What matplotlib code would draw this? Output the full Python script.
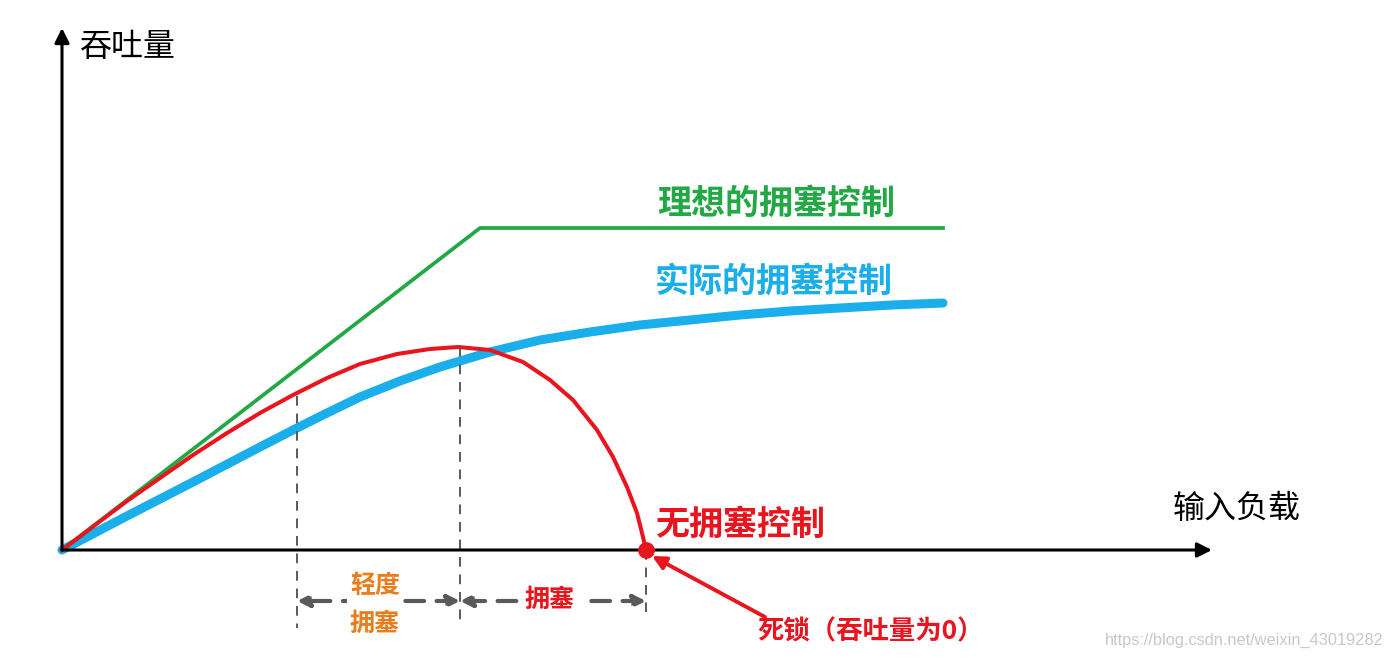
import matplotlib
matplotlib.use("Agg")
import matplotlib.pyplot as plt

plt.rcParams['font.family'] = ['Noto Sans CJK SC', 'DejaVu Sans']

# 输入负载 / 吞吐量 (arbitrary units)
ideal_x = [0, 418, 881]
ideal_y = [0, 322, 322]

real_x = [0, 65, 131, 198, 231, 265, 298, 338, 378, 428, 478, 528, 578, 628, 678, 728, 778, 830, 881]
real_y = [0, 34, 68, 103, 120, 137, 153, 169, 183, 198, 210, 218, 225, 230, 235, 239, 242, 245, 247]

none_x = [0, 65, 131, 165, 198, 231, 265, 298, 335, 368, 396, 428, 461, 488, 511, 535, 551, 565, 575, 581, 584]
none_y = [0, 49, 95, 117, 137, 155, 172, 186, 196, 201, 203, 200, 188, 170, 150, 120, 93, 63, 37, 13, 0]

# 区间分界 (轻度拥塞 / 拥塞 / 死锁)
bound_x = [235, 398, 584]
bound_top = [154, 203, 0]
bound_bottom = [-78, -72, -62]

green = "#22a845"
blue = "#1aaeeb"
red = "#e8141e"
orange = "#e87d1e"
grey = "#5a5a5a"

fig = plt.figure(figsize=(13.88, 6.6), dpi=100)
ax = fig.add_axes([0, 0, 1, 1])
ax.set_xlim(-62, 1326)
ax.set_ylim(-110, 550)
ax.axis('off')

# axes with arrows
ax.annotate("", xy=(0, 522), xytext=(0, 0),
            arrowprops=dict(arrowstyle='-|>', color='black', lw=2.2, mutation_scale=22, shrinkA=0, shrinkB=0))
ax.annotate("", xy=(1150, 0), xytext=(0, 0),
            arrowprops=dict(arrowstyle='-|>', color='black', lw=2.2, mutation_scale=22, shrinkA=0, shrinkB=0))
ax.text(18, 503, "吞吐量", fontsize=23, va='center', ha='left')
ax.text(1111, 41, "输入负载", fontsize=23, va='center', ha='left')

# curves
ax.plot(real_x, real_y, color=blue, lw=6.5, solid_capstyle='round', solid_joinstyle='round')
ax.plot(ideal_x, ideal_y, color=green, lw=2.7)
ax.plot(none_x, none_y, color=red, lw=2.9, solid_joinstyle='round')

ax.text(595, 347, "理想的拥塞控制", fontsize=24.5, fontweight='bold', color=green, va='center', ha='left')
ax.text(593, 269, "实际的拥塞控制", fontsize=24.5, fontweight='bold', color=blue, va='center', ha='left')
ax.text(593, 26, "无拥塞控制", fontsize=24.5, fontweight='bold', color=red, va='center', ha='left')

# dashed boundaries
for bx, bt, bb in zip(bound_x, bound_top, bound_bottom):
    ax.plot([bx, bx], [bt, bb], color=grey, lw=1.4, ls=(0, (5, 4)))

# range arrows
ax.annotate("", xy=(bound_x[0], -51), xytext=(bound_x[1], -51),
            arrowprops=dict(arrowstyle='<|-|>', color=grey, lw=3, ls=(0, (4.5, 3)), mutation_scale=18, shrinkA=0, shrinkB=0))
ax.annotate("", xy=(bound_x[1], -51), xytext=(bound_x[2], -51),
            arrowprops=dict(arrowstyle='<|-|>', color=grey, lw=3, ls=(0, (4.5, 3)), mutation_scale=18, shrinkA=0, shrinkB=0))
ax.text(313, -55, "轻度\n拥塞", fontsize=18, fontweight='bold', color=orange, va='center', ha='center',
        linespacing=1.75, bbox=dict(facecolor='white', edgecolor='none', pad=2))
ax.text(488, -50, "拥塞", fontsize=18, fontweight='bold', color=red, va='center', ha='center',
        bbox=dict(facecolor='white', edgecolor='none', pad=4))

# deadlock point
ax.plot(584, 0, 'o', color=red, ms=11, zorder=5)
ax.annotate("", xy=(590, -6), xytext=(703, -67),
            arrowprops=dict(arrowstyle='-|>', color=red, lw=2.8, mutation_scale=20, shrinkA=0, shrinkB=0))
ax.text(695, -82, "死锁（吞吐量为0）", fontsize=19, fontweight='bold', color=red, va='center', ha='left')

ax.text(1043, -90, "https://blog.csdn.net/weixin_43019282", fontsize=11.8, color='#c8c8c8',
        family=['Liberation Sans Narrow', 'Liberation Sans', 'DejaVu Sans'], va='center', ha='left')

fig.savefig("out.png", dpi=100)
